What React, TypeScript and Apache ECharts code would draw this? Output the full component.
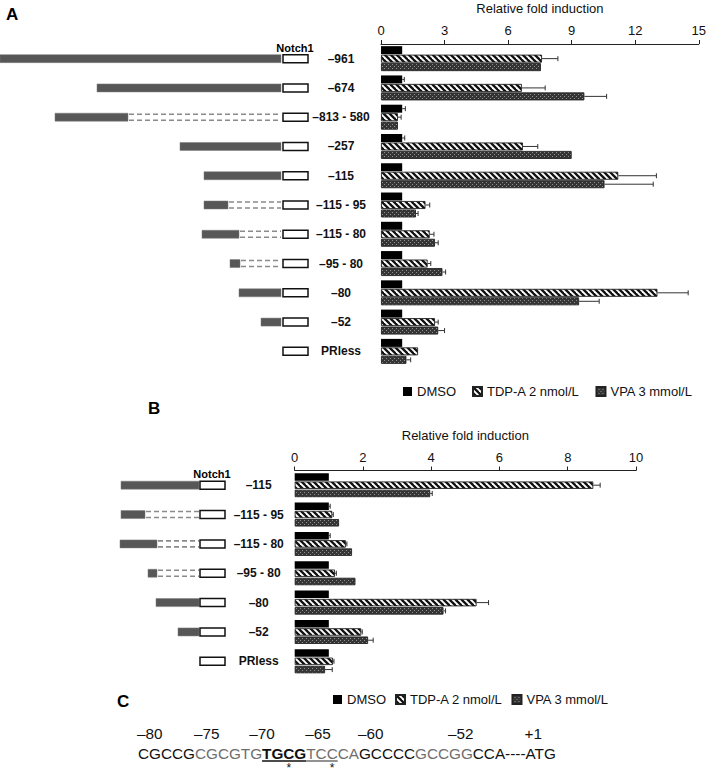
import React, { useEffect, useRef } from "react";
import * as echarts from "echarts";

// ---------- data ----------
const seriesNames = ["DMSO", "TDP-A 2 nmol/L", "VPA 3 mmol/L"];

const constructsA = ["–961", "–674", "–813 - 580", "–257", "–115", "–115 - 95", "–115 - 80", "–95 - 80", "–80", "–52", "PRless"];
const dmsoA = [1, 1, 1, 1, 1, 1, 1, 1, 1, 1, 1];
const dmsoErrA = [null, 1.1, 1.15, 1.12, null, null, null, null, null, null, null];
const tdpA = [7.6, 6.65, 0.8, 6.7, 11.2, 2.1, 2.3, 2.2, 13.05, 2.55, 1.75];
const tdpErrA = [8.35, 7.75, 0.95, 7.4, 13.0, 2.3, 2.5, 2.35, 14.5, 2.7, null];
const vpaA = [7.55, 9.6, 0.8, 9.0, 10.55, 1.65, 2.55, 2.9, 9.35, 2.7, 1.2];
const vpaErrA = [null, 10.65, null, null, 12.85, 1.75, 2.7, 3.05, 10.3, 3.0, 1.4];

const constructsB = ["–115", "–115 - 95", "–115 - 80", "–95 - 80", "–80", "–52", "PRless"];
const dmsoB = [1, 1, 1, 1, 1, 1, 1];
const dmsoErrB = [null, 1.04, 1.04, null, null, null, null];
const tdpB = [8.75, 1.1, 1.5, 1.18, 5.33, 1.95, 1.12];
const tdpErrB = [8.95, 1.13, 1.53, 1.22, 5.68, 1.98, 1.15];
const vpaB = [3.97, 1.3, 1.68, 1.78, 4.36, 2.15, 0.89];
const vpaErrB = [4.03, null, null, null, 4.42, 2.3, 1.1];

const ticksA = [0, 3, 6, 9, 12, 15];
const ticksB = [0, 2, 4, 6, 8, 10];

// promoter construct schematic (not to scale; 0 = start of Notch1 reporter)
const solidStartA = [-283, -186, -228, -103, -79, -79, -81, -53, -44, -22, null];
const solidEndA = [-2, -2, -155, -2, -2, -55, -44, -43, -2, -2, null];
const dashEndA = [null, null, -2, null, null, -2, -2, -2, null, null, null];
const solidStartB = [-79, -79, -80, -52, -44, -22, null];
const solidEndB = [-1, -55, -43, -43, -1, -1, null];
const dashEndB = [null, -1, -1, -1, null, null, null];
const reporterSpan = [0, 25];

// panel C sequence
const seqSegments = ["CGCCG", "CGCGTG", "TGCG", "TCC", "CA", "GCCCC", "GCCGG", "CCA----ATG"];
const seqKind = ["plain", "alt", "site", "siteAlt", "alt", "plain", "alt", "plain"];
const positionLabels = ["–80", "–75", "–70", "–65", "–60", "–52", "+1"];
const positionCharIdx = [0, 5, 10, 15, 20, 28, 37];
const asteriskCharIdx = [13, 17];

const FONT = '"Liberation Sans", Arial, sans-serif';

function stripePattern() {
  const c = document.createElement("canvas");
  c.width = 6;
  c.height = 6;
  const ctx = c.getContext("2d")!;
  ctx.fillStyle = "#fff";
  ctx.fillRect(0, 0, 6, 6);
  ctx.strokeStyle = "#111";
  ctx.lineWidth = 2.3;
  for (let k = -12; k <= 12; k += 6) {
    ctx.beginPath();
    ctx.moveTo(k - 1, -1);
    ctx.lineTo(k + 7, 7);
    ctx.stroke();
  }
  return c;
}

function dotPattern() {
  const c = document.createElement("canvas");
  c.width = 4;
  c.height = 4;
  const ctx = c.getContext("2d")!;
  ctx.fillStyle = "#353535";
  ctx.fillRect(0, 0, 4, 4);
  ctx.fillStyle = "#8f8f8f";
  ctx.fillRect(0, 0, 1, 1);
  ctx.fillRect(2, 2, 1, 1);
  return c;
}

export default function App() {
  const ref = useRef<HTMLDivElement>(null);

  useEffect(() => {
    document.body.style.margin = "0";
    const chart = echarts.init(ref.current!, null, { renderer: "svg" });

    const stripe = { image: stripePattern(), repeat: "repeat" };
    const dots = { image: dotPattern(), repeat: "repeat" };
    const colors: any[] = ["#000", stripe, dots];

    const barSeries = (vals: number[][], xi: number, bw: number, gap: string) =>
      vals.map((d, k) => ({
        type: "bar",
        name: seriesNames[k],
        data: d,
        xAxisIndex: xi,
        yAxisIndex: xi,
        barWidth: bw,
        barGap: gap,
        silent: true,
        z: 2,
        itemStyle: { color: colors[k], borderColor: "#222", borderWidth: k === 0 ? 0 : 0.9 },
      }));

    const errSeries = (vals: number[], errs: (number | null)[], xi: number, offset: number) => ({
      type: "custom",
      xAxisIndex: xi,
      yAxisIndex: xi,
      silent: true,
      z: 5,
      data: vals.map((v, i) => [v, i]),
      encode: { x: 0, y: 1 },
      renderItem: (params: any, api: any) => {
        const i = params.dataIndex;
        const e = errs[i];
        if (e == null) return { type: "group", children: [] };
        const p0 = api.coord([vals[i], i]);
        const p1 = api.coord([e, i]);
        const y = p0[1] + offset;
        const st = { stroke: "#333", lineWidth: 1 };
        return {
          type: "group",
          children: [
            { type: "line", shape: { x1: p0[0], y1: y, x2: p1[0], y2: y }, style: st },
            { type: "line", shape: { x1: p1[0], y1: y - 2.5, x2: p1[0], y2: y + 2.5 }, style: st },
          ],
        };
      },
    });

    const diagramSeries = (
      starts: (number | null)[],
      ends: (number | null)[],
      dashEnds: (number | null)[],
      xi: number
    ) => ({
      type: "custom",
      xAxisIndex: xi,
      yAxisIndex: xi,
      silent: true,
      data: starts.map((_, i) => [0, i]),
      encode: { x: 0, y: 1 },
      renderItem: (params: any, api: any) => {
        const i = params.dataIndex;
        const children: any[] = [];
        const h = 8;
        const s = starts[i];
        const e = ends[i];
        const d = dashEnds[i];
        if (s != null && e != null) {
          const a = api.coord([s, i]);
          const b = api.coord([e, i]);
          children.push({
            type: "rect",
            shape: { x: a[0], y: a[1] - h / 2, width: b[0] - a[0], height: h },
            style: { fill: "#575757", stroke: "#7a7a7a", lineWidth: 0.5 },
          });
          if (d != null) {
            const c = api.coord([d, i]);
            [-3, 3].forEach((dy) =>
              children.push({
                type: "line",
                shape: { x1: b[0] + 1, y1: b[1] + dy, x2: c[0], y2: c[1] + dy },
                style: { stroke: "#8a8a8a", lineWidth: 1.6, lineDash: [5, 3] },
              })
            );
          }
        }
        const r0 = api.coord([reporterSpan[0], i]);
        const r1 = api.coord([reporterSpan[1], i]);
        children.push({
          type: "rect",
          shape: { x: r0[0], y: r0[1] - h / 2, width: r1[0] - r0[0], height: h },
          style: { fill: "#fff", stroke: "#111", lineWidth: 1.5 },
        });
        return { type: "group", children };
      },
    });

    const valueAxis = (gi: number, ticks: number[], nameGap: number) => ({
      gridIndex: gi,
      type: "value",
      position: "top",
      min: ticks[0],
      max: ticks[ticks.length - 1],
      interval: ticks[1] - ticks[0],
      name: "Relative fold induction",
      nameLocation: "middle",
      nameGap,
      nameTextStyle: { fontSize: 13, color: "#111", fontFamily: FONT },
      axisLine: { show: true, lineStyle: { color: "#222", width: 1 } },
      axisTick: { show: true, inside: false, length: 4, lineStyle: { color: "#222" } },
      axisLabel: { fontSize: 13, color: "#111", margin: 7, fontFamily: FONT },
      splitLine: { show: false },
    });

    const hiddenX = (gi: number, min: number, max: number) => ({
      gridIndex: gi,
      type: "value",
      min,
      max,
      show: false,
      splitLine: { show: false },
    });

    const catAxis = (gi: number, data: string[], margin: number, show: boolean) => ({
      gridIndex: gi,
      type: "category",
      inverse: true,
      data,
      show,
      axisLine: { show: false },
      axisTick: { show: false },
      axisLabel: {
        show,
        align: "center",
        margin,
        fontSize: 12,
        fontWeight: "bold",
        color: "#111",
        fontFamily: FONT,
      },
    });

    // ---- panel C layout via text measurement ----
    const fs = 15.3;
    const cctx = document.createElement("canvas").getContext("2d")!;
    const seqX0 = 138;
    const seqY = 753;
    const charX: number[] = [];
    const charW: number[] = [];
    const segEls: any[] = [];
    const lineEls: any[] = [];
    let x = seqX0;
    seqSegments.forEach((seg, si) => {
      const kind = seqKind[si];
      const bold = kind === "site";
      const grey = kind === "alt" || kind === "siteAlt";
      const font = `${bold ? "bold " : ""}${fs}px ${FONT}`;
      cctx.font = font;
      const segStart = x;
      for (const ch of seg) {
        const w = cctx.measureText(ch).width;
        charX.push(x);
        charW.push(w);
        x += w;
      }
      segEls.push({
        type: "text",
        x: segStart,
        y: seqY,
        silent: true,
        style: {
          text: seg,
          fill: grey ? "#6e6e6e" : "#111",
          font,
          textAlign: "left",
          textVerticalAlign: "middle",
        },
      });
      if (kind === "site" || kind === "siteAlt") {
        lineEls.push({
          type: "line",
          silent: true,
          shape: { x1: segStart, y1: seqY + 8, x2: x, y2: seqY + 8 },
          style: { stroke: kind === "site" ? "#111" : "#777", lineWidth: 1.6 },
        });
      }
    });
    const numEls = positionLabels.map((t, k) => ({
      type: "text",
      x: charX[positionCharIdx[k]] - 1,
      y: 733,
      silent: true,
      style: { text: t, fill: "#111", font: `${fs}px ${FONT}`, textAlign: "left", textVerticalAlign: "middle" },
    }));
    const starEls = asteriskCharIdx.map((ci) => ({
      type: "text",
      x: charX[ci] + charW[ci] / 2,
      y: 768,
      silent: true,
      style: { text: "*", fill: "#111", font: `12px ${FONT}`, textAlign: "center", textVerticalAlign: "middle" },
    }));

    const panelLabel = (t: string, px: number, py: number) => ({
      type: "text",
      x: px,
      y: py,
      silent: true,
      style: { text: t, fill: "#000", font: `bold 17px ${FONT}`, textAlign: "left", textVerticalAlign: "middle" },
    });
    const notchLabel = (px: number, py: number) => ({
      type: "text",
      x: px,
      y: py,
      silent: true,
      style: { text: "Notch1", fill: "#000", font: `bold 11px ${FONT}`, textAlign: "center", textVerticalAlign: "middle" },
    });

    const option: any = {
      animation: false,
      backgroundColor: "#fff",
      grid: [
        { left: 381, top: 44, width: 321, height: 322 },
        { left: 0, top: 44, width: 308.5, height: 322 },
        { left: 294.7, top: 470.5, width: 341.3, height: 205.5 },
        { left: 120, top: 470.5, width: 105.5, height: 205.5 },
      ],
      xAxis: [
        valueAxis(0, ticksA, 29),
        hiddenX(1, -283, 25.5),
        valueAxis(2, ticksB, 29),
        hiddenX(3, -80, 25.5),
      ],
      yAxis: [
        catAxis(0, constructsA, 40, true),
        catAxis(1, constructsA, 0, false),
        catAxis(2, constructsB, 36, true),
        catAxis(3, constructsB, 0, false),
      ],
      legend: [
        {
          left: 398,
          top: 380,
          icon: "rect",
          itemWidth: 9,
          itemHeight: 9,
          itemGap: 16,
          selectedMode: false,
          data: seriesNames,
          textStyle: { fontSize: 13, color: "#111", fontFamily: FONT },
        },
        {
          left: 328,
          top: 688,
          icon: "rect",
          itemWidth: 9,
          itemHeight: 9,
          itemGap: 9,
          selectedMode: false,
          data: seriesNames,
          textStyle: { fontSize: 13, color: "#111", fontFamily: FONT },
        },
      ],
      series: [
        ...barSeries([dmsoA, tdpA, vpaA], 0, 8, "6%"),
        errSeries(dmsoA, dmsoErrA, 0, -8.48),
        errSeries(tdpA, tdpErrA, 0, 0),
        errSeries(vpaA, vpaErrA, 0, 8.48),
        diagramSeries(solidStartA, solidEndA, dashEndA, 1),
        ...barSeries([dmsoB, tdpB, vpaB], 2, 7.5, "10%"),
        errSeries(dmsoB, dmsoErrB, 2, -8.25),
        errSeries(tdpB, tdpErrB, 2, 0),
        errSeries(vpaB, vpaErrB, 2, 8.25),
        diagramSeries(solidStartB, solidEndB, dashEndB, 3),
      ],
      graphic: [
        panelLabel("A", 6, 14),
        panelLabel("B", 148, 408),
        panelLabel("C", 117, 701),
        notchLabel(295, 48),
        notchLabel(212, 474),
        ...segEls,
        ...lineEls,
        ...numEls,
        ...starEls,
      ],
    };

    chart.setOption(option);
    return () => chart.dispose();
  }, []);

  return <div ref={ref} style={{ width: 709, height: 774 }} />;
}
